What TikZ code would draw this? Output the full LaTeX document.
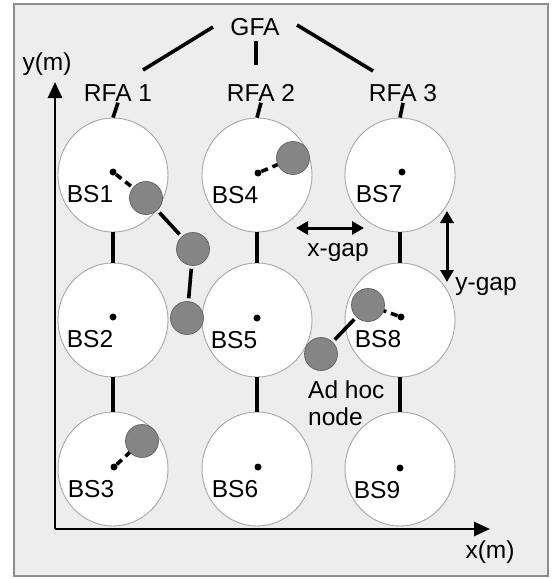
\documentclass[tikz,border=0pt]{standalone}
\usepackage{fontspec}
\setmainfont{Liberation Sans}
\usetikzlibrary{arrows.meta,shapes.geometric}
\begin{document}
\begin{tikzpicture}[x=1pt,y=-1pt,
  lbl/.style={font=\fontsize{24.5}{27}\selectfont, inner sep=1pt},
  bs/.style={ellipse, draw=black!35, line width=0.9pt, fill=white, minimum width=110, minimum height=114, inner sep=0pt},
  bsdot/.style={circle, fill=black, minimum size=7, inner sep=0pt},
  mob/.style={circle, fill=black!48, draw=black!62, line width=0.7pt, minimum size=33, inner sep=0pt},
  link/.style={line width=3.6pt},
  wl/.style={line width=3.6pt, dash pattern=on 7pt off 5pt},
  axis/.style={line width=2.6pt, -{Triangle[length=16pt,width=14pt]}},
  gap/.style={line width=3pt, {Triangle[length=12pt,width=13pt]}-{Triangle[length=12pt,width=13pt]}}]
\useasboundingbox (0,0) rectangle (552,579);
\draw[black!45, line width=1.2pt, fill=black!7] (14,4) rectangle (548,576);

% top labels
\node[lbl] (gfa) at (255,27) {GFA};
\node[lbl] (rfa1) at (118,93) {RFA 1};
\node[lbl] (rfa2) at (261,93) {RFA 2};
\node[lbl] (rfa3) at (403,93) {RFA 3};
\coordinate (g1a) at (213,27); \coordinate (g1b) at (143,70);
\coordinate (g2a) at (256,41); \coordinate (g2b) at (256,65);
\coordinate (g3a) at (297,25); \coordinate (g3b) at (373,71);
\draw[link] (g1a) -- (g1b);
\draw[link] (g2a) -- (g2b);
\draw[link] (g3a) -- (g3b);

% axes
\coordinate (O) at (55,529);
\coordinate (ytip) at (55,82);
\coordinate (xtip) at (490,529);
\draw[axis] (O) -- (ytip);
\draw[axis] (O) -- (xtip);
\node[lbl] (ylab) at (47,64) {y(m)};
\node[lbl] (xlab) at (490,552) {x(m)};

% base stations
\foreach \n/\x/\y in {1/113/175,2/113/320,3/113/469,4/257/175,5/257/320,6/257/469,7/400/175,8/400/320,9/400/469}{
  \node[bs] (bs\n) at (\x,\y) {};
}
\draw[link] (rfa1.south) -- (bs1.north);
\draw[link] (rfa2.south) -- (bs4.north);
\draw[link] (rfa3.south) -- (bs7.north);
\draw[link] (bs1) -- (bs2); \draw[link] (bs2) -- (bs3);
\draw[link] (bs4) -- (bs5); \draw[link] (bs5) -- (bs6);
\draw[link] (bs7) -- (bs8); \draw[link] (bs8) -- (bs9);

\foreach \n/\x/\y in {1/113/172,2/113/317,3/114/467,4/258/173,5/257/318,6/258/467,7/402/172,8/401/317,9/400/468}{
  \node[bsdot] (d\n) at (\x,\y) {};
  \node[lbl] (t\n) at (\x-23,\y+22) {BS\n};
}

% mobile nodes
\node[mob] (m1) at (146,198) {};
\node[mob] (m2) at (193,249) {};
\node[mob] (m3) at (187,318) {};
\node[mob] (m4) at (293,158) {};
\node[mob] (m8) at (368,305) {};
\node[mob] (mah) at (321,354) {};
\node[mob] (m3b) at (142,441) {};

\draw[wl] (d1) -- (m1);
\draw[wl] (d4) -- (m4);
\draw[wl] (d8) -- (m8);
\draw[wl] (d3) -- (m3b);
\draw[link, shorten <=3pt, shorten >=3pt] (m1) -- (m2);
\draw[link, shorten <=3pt, shorten >=3pt] (m2) -- (m3);
\draw[link, shorten <=3pt, shorten >=3pt] (mah) -- (m8);

\node[lbl, align=left, anchor=west] (ah) at (307,403) {Ad hoc\\node};

% gaps
\coordinate (xg1) at (296,228); \coordinate (xg2) at (364,228);
\draw[gap] (xg1) -- (xg2);
\node[lbl] (xgl) at (338,252) {x-gap};
\coordinate (yg1) at (447,211); \coordinate (yg2) at (447,282);
\draw[gap] (yg1) -- (yg2);
\node[lbl] (ygl) at (486,286) {y-gap};
\end{tikzpicture}
\end{document}
